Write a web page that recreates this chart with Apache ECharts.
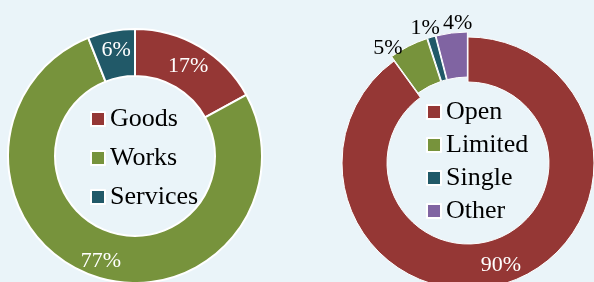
<!DOCTYPE html>
<html><head><meta charset="utf-8">
<script src="https://cdn.jsdelivr.net/npm/echarts@6/dist/echarts.min.js"></script>
<style>html,body{margin:0;padding:0;background:#EAF4F9}#c{width:594px;height:282px}</style>
</head><body><div id="c"></div>
<script>
const leftCats = ['Goods', 'Works', 'Services'];
const leftVals = [17, 77, 6];
const rightCats = ['Open', 'Limited', 'Single', 'Other'];
const rightVals = [90, 5, 1, 4];
const colorsLeft = ['#953735', '#77933C', '#215968'];
const colorsRight = ['#953735', '#77933C', '#215968', '#8064A2'];
const font = '"Liberation Serif", "Times New Roman", serif';
// label nudges (style only)
const leftNudge = [[-1, 2], [2, 5], [1, -1]];
const rightNudge = [[0, 1], [0, 4], [14, -7], [26, -8]];

const chart = echarts.init(document.getElementById('c'), null, {renderer: 'canvas'});
const leftData = leftCats.map((n, i) => ({name: n, value: leftVals[i], itemStyle: {color: colorsLeft[i]}}));
const rightData = rightCats.map((n, i) => {
  const d = {name: n, value: rightVals[i], itemStyle: {color: colorsRight[i]}, selected: i > 0};
  if (i > 0) d.label = {position: 'outside', color: '#000'};
  return d;
});
function nudge(arr) {
  return function (p) { const o = arr[p.dataIndex] || [0, 0]; return {dx: o[0], dy: o[1], hideOverlap: false}; };
}
chart.setOption({
  backgroundColor: '#EAF4F9',
  animation: false,
  legend: [
    {data: leftCats, orient: 'vertical', left: 90, top: 106, padding: 0, itemWidth: 14, itemHeight: 14, itemGap: 13, icon: 'rect',
     textStyle: {fontFamily: font, fontSize: 26, lineHeight: 26, color: '#000'}},
    {data: rightCats, orient: 'vertical', left: 426, top: 99, padding: 0, itemWidth: 14, itemHeight: 14, itemGap: 7, icon: 'rect',
     textStyle: {fontFamily: font, fontSize: 26, lineHeight: 26, color: '#000'}}
  ],
  series: [
    {type: 'pie', center: [135, 156], radius: [80, 127], startAngle: 90, clockwise: true, avoidLabelOverlap: false,
     itemStyle: {borderColor: '#fff', borderWidth: 2}, selectedMode: false,
     label: {show: true, position: 'inside', formatter: '{c}%', color: '#fff', fontFamily: font, fontSize: 22},
     labelLine: {show: false}, labelLayout: nudge(leftNudge), emphasis: {disabled: true}, data: leftData},
    {type: 'pie', center: [468, 163], radius: [81, 126], startAngle: 90, clockwise: true, avoidLabelOverlap: false,
     itemStyle: {borderColor: '#fff', borderWidth: 1}, selectedMode: 'multiple', selectedOffset: 5,
     label: {show: true, position: 'inside', formatter: '{c}%', color: '#fff', fontFamily: font, fontSize: 22},
     labelLine: {show: false, length: 2, length2: 0}, labelLayout: nudge(rightNudge), emphasis: {disabled: true}, data: rightData}
  ]
});
</script></body></html>
